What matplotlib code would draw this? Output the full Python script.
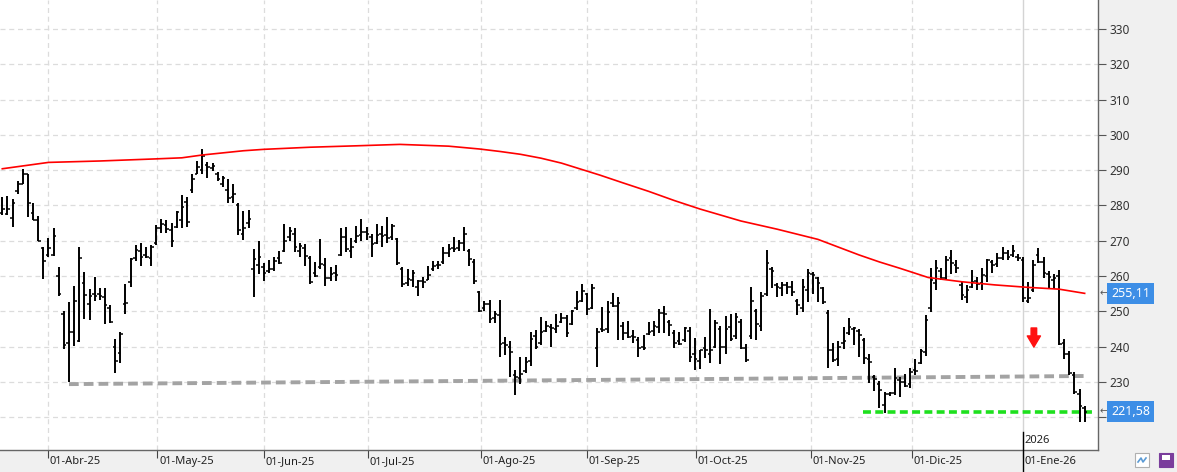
import matplotlib.pyplot as plt
import matplotlib.transforms as mtransforms
from matplotlib.patches import Rectangle
from matplotlib.lines import Line2D
import numpy as np

plt.rcParams['font.family'] = ['Noto Sans', 'DejaVu Sans']

# daily OHLC bars
highs = [
    282.3, 282.7, 281.8, 286.8, 290.3, 288.9, 280.7, 277.0, 268.3, 270.8,
    273.6, 262.6, 250.2, 252.7, 257.3, 268.1, 261.2, 256.3, 259.8, 256.6,
    256.5, 251.9, 242.2, 244.3, 257.7, 265.0, 268.9, 269.3, 268.3, 268.9,
    274.4, 276.1, 275.9, 274.9, 278.5,
    282.9, 282.5, 288.9, 292.6, 295.9, 292.2, 292.0, 289.5, 288.4, 287.5,
    286.2, 280.7, 278.3, 278.7, 267.6, 269.8, 263.6, 264.5, 265.5, 267.2,
    274.7, 274.0, 273.6, 269.3, 269.1, 265.8, 263.9, 270.5, 265.1, 262.5,
    263.2, 273.6, 274.0, 270.9, 274.2,
    276.1, 274.0, 271.9, 274.7, 274.2, 276.8, 274.7, 270.9, 262.6, 262.0,
    261.7, 258.9, 259.8, 262.9, 264.2, 264.3, 268.1, 269.1, 271.1, 270.2,
    274.0, 267.6, 264.8, 255.8, 253.0, 253.2, 250.2, 253.2, 242.8, 241.5,
    233.4, 237.2, 237.0, 244.3, 244.7,
    248.5, 247.4, 246.4, 249.4, 249.6, 249.0, 250.4, 255.8, 257.7, 255.3,
    257.9, 245.2, 251.3, 253.0, 255.3, 254.2, 247.1, 247.4, 244.7, 242.8,
    243.3, 247.1, 247.4, 250.6, 251.5, 247.5, 244.7, 244.2, 245.7, 245.5,
    242.4, 239.0, 242.8, 250.6, 247.5,
    246.0, 248.6, 249.3, 249.5, 247.9, 240.8, 257.0, 250.8, 255.5, 267.4,
    262.7, 258.1, 258.4, 258.4, 258.7, 253.6, 259.3, 261.9, 261.2, 259.6,
    257.0, 250.5, 241.0, 241.7, 245.7, 248.2, 245.7, 245.0, 242.5, 237.9,
    232.0, 230.3, 227.2, 227.2, 234.1,
    231.4, 232.3, 233.9, 236.6, 239.3, 248.9, 262.2, 264.6, 262.4, 265.8,
    267.4, 264.6, 258.4, 257.5, 261.7, 259.8, 262.2, 264.9, 264.6, 266.5,
    268.1, 267.4, 268.9, 266.2, 265.3, 258.4, 264.6, 267.9, 265.5, 261.5,
    260.5, 261.7, 242.1, 238.7, 232.8, 227.9, 223.3,
]
lows = [
    277.4, 277.4, 273.8, 283.2, 286.2, 276.8, 275.8, 270.0, 259.2, 265.5,
    265.8, 254.4, 239.4, 229.9, 240.1, 241.2, 247.8, 247.5, 253.0, 253.2,
    246.4, 246.7, 232.5, 235.3, 249.2, 257.0, 264.3, 262.9, 265.0, 262.8,
    268.9, 272.1, 272.1, 268.3, 273.6,
    273.6, 273.8, 283.4, 288.9, 288.9, 287.7, 289.8, 286.8, 285.1, 280.8,
    280.8, 271.6, 270.2, 273.5, 254.2, 260.6, 258.7, 261.0, 261.5, 263.4,
    266.7, 270.0, 266.7, 265.3, 262.9, 257.7, 259.8, 262.0, 257.1, 258.7,
    258.5, 265.8, 266.7, 265.1, 269.5,
    270.0, 270.2, 265.3, 269.1, 268.1, 269.5, 270.2, 263.2, 257.0, 257.3,
    257.0, 254.4, 256.6, 258.9, 261.5, 262.0, 263.4, 265.3, 266.7, 267.2,
    267.2, 262.9, 257.7, 249.9, 250.2, 246.6, 246.6, 237.0, 237.7, 231.5,
    226.4, 229.4, 232.5, 234.6, 239.4,
    240.5, 244.2, 240.0, 243.8, 246.8, 242.8, 246.1, 250.4, 252.7, 249.0,
    250.8, 234.3, 244.2, 243.8, 251.3, 241.9, 241.9, 242.4, 241.1, 237.2,
    239.2, 243.3, 243.0, 243.8, 244.0, 243.0, 239.5, 240.5, 241.4, 235.8,
    233.4, 233.6, 236.7, 235.3, 239.5,
    235.0, 237.9, 241.7, 242.2, 239.3, 235.8, 242.2, 241.9, 244.4, 254.3,
    256.5, 254.1, 254.3, 255.0, 254.3, 248.9, 249.8, 252.7, 255.0, 252.7,
    252.0, 234.1, 235.8, 234.6, 239.3, 243.4, 240.6, 237.1, 235.2, 229.8,
    227.4, 222.7, 221.2, 226.0, 226.3,
    225.7, 228.5, 228.3, 231.9, 235.2, 237.4, 249.9, 256.1, 258.9, 258.9,
    260.5, 260.8, 253.2, 252.3, 256.5, 256.1, 256.1, 258.4, 260.8, 262.7,
    264.6, 264.6, 265.3, 264.3, 252.7, 252.3, 255.6, 263.6, 259.4, 256.5,
    256.3, 240.4, 236.4, 231.9, 226.6, 218.8, 218.8,
]
opens = [
    277.8, 277.6, 276.4, 284.0, 286.2, 288.9, 278.0, 276.0, 268.0, 266.0,
    266.0, 260.1, 249.2, 241.0, 244.1, 241.7, 258.0, 252.0, 255.0, 254.8,
    254.0, 251.0, 240.0, 238.2, 252.0, 258.2, 265.0, 267.0, 266.0, 265.0,
    269.5, 273.5, 274.5, 273.0, 274.0,
    276.0, 281.0, 284.5, 289.0, 290.0, 291.5, 290.5, 289.0, 286.0, 284.3,
    282.5, 280.0, 272.0, 275.0, 262.0, 263.0, 262.5, 261.5, 262.0, 265.0,
    267.0, 271.0, 272.0, 267.0, 268.0, 265.0, 261.0, 262.5, 263.0, 259.5,
    261.0, 266.0, 271.0, 267.0, 270.0,
    271.5, 272.5, 271.0, 269.5, 272.0, 271.5, 271.0, 270.5, 262.0, 258.0,
    259.0, 257.0, 258.5, 259.0, 262.0, 263.0, 263.9, 266.5, 268.0, 268.0,
    269.5, 267.0, 264.0, 255.5, 251.0, 252.0, 248.0, 249.0, 241.0, 240.0,
    232.0, 231.0, 233.0, 236.0, 243.0,
    241.0, 244.5, 245.5, 245.0, 247.0, 248.0, 246.5, 251.0, 253.0, 255.0,
    251.0, 239.5, 245.0, 245.0, 252.5, 251.5, 246.0, 244.0, 243.0, 242.0,
    240.0, 243.5, 244.5, 245.5, 249.5, 247.0, 244.0, 241.5, 242.0, 244.5,
    238.0, 236.0, 239.5, 238.0, 240.0,
    245.0, 240.0, 245.5, 243.0, 247.0, 239.5, 243.0, 250.0, 246.0, 255.0,
    262.0, 257.5, 256.5, 257.5, 257.0, 253.0, 251.0, 256.0, 260.5, 259.5,
    256.5, 249.5, 239.0, 236.5, 241.0, 244.0, 245.0, 244.5, 242.0, 236.5,
    231.5, 229.5, 223.5, 226.5, 227.0,
    230.5, 230.0, 229.5, 233.5, 235.5, 238.5, 251.0, 258.0, 261.5, 259.5,
    265.0, 263.0, 257.5, 254.0, 257.0, 258.5, 258.0, 260.0, 264.0, 263.5,
    265.0, 266.5, 266.0, 265.5, 264.5, 253.0, 256.0, 266.0, 264.0, 260.5,
    259.0, 260.0, 241.0, 238.0, 232.0, 226.5, 222.5,
]
closes = [
    279.0, 279.0, 280.6, 286.0, 289.0, 280.7, 276.0, 270.0, 264.3, 268.0,
    271.4, 255.0, 240.6, 244.2, 253.0, 265.1, 254.7, 254.4, 254.4, 254.4,
    251.9, 246.9, 236.0, 243.6, 252.3, 264.8, 267.4, 265.5, 265.3, 268.1,
    273.6, 274.7, 273.3, 270.0, 278.2,
    279.6, 275.4, 287.5, 290.8, 294.0, 290.8, 291.2, 287.5, 287.9, 282.0,
    283.2, 273.0, 273.6, 276.1, 264.8, 265.3, 261.0, 262.0, 264.2, 263.6,
    270.0, 272.8, 268.3, 268.6, 265.8, 258.2, 260.1, 263.4, 259.4, 260.6,
    260.4, 271.0, 267.6, 268.1, 271.4,
    272.6, 271.9, 269.2, 271.7, 271.4, 270.9, 274.2, 263.7, 257.7, 259.2,
    260.8, 258.7, 258.2, 260.4, 262.9, 263.2, 266.5, 267.6, 267.6, 269.5,
    271.9, 264.8, 258.5, 250.2, 252.1, 247.8, 249.2, 240.8, 240.6, 238.4,
    231.3, 232.3, 235.6, 242.2, 239.8,
    244.2, 245.8, 245.2, 245.8, 248.0, 244.0, 250.2, 252.7, 255.8, 250.6,
    256.5, 244.2, 244.7, 249.9, 251.5, 252.3, 243.8, 242.8, 242.8, 239.5,
    239.5, 244.2, 245.8, 249.6, 249.4, 246.1, 241.1, 240.9, 245.2, 237.2,
    236.4, 239.0, 239.0, 239.0, 246.8,
    239.8, 245.0, 242.2, 248.4, 239.6, 236.2, 252.9, 246.5, 254.3, 263.6,
    261.5, 257.0, 257.4, 257.0, 255.5, 251.9, 257.0, 260.8, 260.3, 258.1,
    252.7, 239.0, 236.2, 240.0, 241.7, 245.7, 245.3, 243.4, 236.8, 235.8,
    230.8, 227.6, 226.7, 227.0, 231.0,
    230.0, 229.0, 232.8, 233.0, 238.7, 247.5, 259.0, 262.2, 259.4, 264.6,
    263.6, 262.2, 254.6, 256.1, 258.2, 257.9, 260.3, 264.6, 263.2, 265.1,
    266.5, 265.3, 267.0, 265.1, 253.9, 253.9, 263.2, 264.0, 260.8, 259.8,
    259.4, 240.9, 238.0, 232.6, 227.1, 223.1, 221.58,
]

# moving average (red), sampled along the bars
ma_x = [0, 9, 19, 30, 35, 39, 47, 51, 60, 69, 77.5, 87, 93, 97, 101, 105, 109,
        116.5, 121, 126, 131, 136, 144, 151, 159, 163, 167, 171, 175, 180.5,
        187, 193.5, 200, 206, 211]
ma_y = [290.4, 292.2, 292.6, 293.2, 293.5, 294.3, 295.5, 295.9, 296.5, 296.9,
        297.3, 296.8, 296.0, 295.3, 294.5, 293.4, 292.0, 288.6, 286.4, 284.0,
        281.4, 279.0, 275.6, 273.3, 270.4, 268.2, 266.0, 264.0, 262.2, 259.6,
        258.4, 257.5, 256.8, 256.3, 255.11]

# support lines
support_x = [13, 211]
support_y = [229.4, 231.7]
low_x = [167.8, 213]
low_y = [221.6, 221.6]

month_pos = [8.9, 30.2, 51.0, 71.2, 93.3, 113.9, 135.2, 157.6, 177.3, 198.9]
month_labels = ['01-Abr-25', '01-May-25', '01-Jun-25', '01-Jul-25', '01-Ago-25',
                '01-Sep-25', '01-Oct-25', '01-Nov-25', '01-Dic-25', '01-Ene-26']
y_ticks = [220, 230, 240, 250, 260, 270, 280, 290, 300, 310, 320, 330]
# 220 is hidden behind the last-price box in the original
y_tick_labels = ['', '230', '240', '250', '260', '270', '280', '290', '300',
                 '310', '320', '330']

ma_last = 255.11
last_price = 221.58

W, H = 1177, 472
fig = plt.figure(figsize=(W / 100, H / 100), dpi=100)
ax = fig.add_axes([0, 22 / H, 1098 / W, 450 / H])

# gray side/bottom panels
fig.add_artist(Rectangle((1098 / W, 0), 1, 1, transform=fig.transFigure,
                         fc='#f0f0f0', ec='none', zorder=-5))
fig.add_artist(Rectangle((0, 0), 1, 22 / H, transform=fig.transFigure,
                         fc='#f0f0f0', ec='none', zorder=-5))

x = np.arange(len(closes))

# grid
for v in y_ticks:
    ax.axhline(v, color='#dcdcdc', lw=0.9, ls=(0, (4, 3)), zorder=0)
for p in month_pos[:-1]:
    ax.axvline(p, color='#dcdcdc', lw=0.9, ls=(0, (4, 3)), zorder=0)
ax.axvline(month_pos[-1], color='#d4d4d4', lw=1.0, zorder=0)

# OHLC bars
ax.vlines(x, lows, highs, color='black', lw=1.4, zorder=3)
ax.hlines(opens, x - 0.5, x, color='black', lw=1.1, zorder=3)
ax.hlines(closes, x, x + 0.5, color='black', lw=1.1, zorder=3)

ax.plot(ma_x, ma_y, color='#ff0000', lw=1.2, zorder=4)
ax.plot(support_x, support_y, color='#a3a3a3', lw=2.8, ls=(0, (2.5, 1.3)), zorder=2)
ax.plot(low_x, low_y, color='#1ee01e', lw=2.6, ls=(0, (2.2, 1.2)), zorder=2)

# red down arrow
ax.annotate('', xy=(201.1, 239.9), xytext=(201.1, 245.3),
            arrowprops=dict(arrowstyle='simple,head_length=0.8,head_width=0.95,tail_width=0.4',
                            fc='#ff1010', ec='#ff1010', shrinkA=0, shrinkB=0), zorder=5)

ax.set_xlim(-0.45, 213.6)
ax.set_ylim(210.74, 338.2)

for s in ['top', 'left']:
    ax.spines[s].set_visible(False)
for s in ['right', 'bottom']:
    ax.spines[s].set_color('#666666')
    ax.spines[s].set_linewidth(1.0)

ax.yaxis.tick_right()
ax.set_yticks(y_ticks, y_tick_labels)
ax.tick_params(axis='y', direction='out', length=6, width=0.8, colors='#555555',
               labelcolor='#333333', labelsize=8.5, pad=2)
ax.set_xticks(month_pos)
ax.set_xticklabels([])
ax.tick_params(axis='x', direction='out', length=6, width=0.8, colors='#444444')

bt = mtransforms.blended_transform_factory(ax.transData, ax.transAxes)
for p, lab in zip(month_pos, month_labels):
    ax.text(p + 0.35, -0.026, lab, transform=bt, ha='left', va='center',
            fontsize=8, color='#222222', clip_on=False)
ax.text(month_pos[-1] + 0.3, 0.022, '2026', transform=bt, ha='left', va='center',
        fontsize=8, color='#222222')
ax.plot([month_pos[-1], month_pos[-1]], [0.04, -0.05], transform=bt, color='black',
        lw=1.0, clip_on=False, zorder=6)

# value boxes on the price axis
tb = mtransforms.blended_transform_factory(fig.transFigure, ax.transData)
for val in [ma_last, last_price]:
    fig.text(1100 / W, val, '\u2190', transform=tb, fontsize=7, color='#555555',
             va='center', ha='left', family='DejaVu Sans')
    fig.text(1111 / W, val, f'{val:.2f}'.replace('.', ','), transform=tb,
             fontsize=9, color='white', va='center', ha='left', zorder=10,
             bbox=dict(boxstyle='square,pad=0.3', fc='#3d8ee6', ec='none'))

# small toolbar icons bottom right
fig.add_artist(Rectangle((1135 / W, 5 / H), 14 / W, 14 / H, transform=fig.transFigure,
                         fc='white', ec='#b0b0b0', lw=0.8))
fig.add_artist(Line2D([1138 / W, 1141 / W, 1143 / W, 1146 / W],
                      [10 / H, 14 / H, 10 / H, 14 / H], transform=fig.transFigure,
                      color='#5b9bd5', lw=1.2))
fig.add_artist(Rectangle((1159 / W, 5 / H), 14 / W, 14 / H, transform=fig.transFigure,
                         fc='#7a3d9c', ec='#7a3d9c', lw=0.8))
fig.add_artist(Rectangle((1162 / W, 12 / H), 8 / W, 5 / H, transform=fig.transFigure,
                         fc='white', ec='none'))

fig.savefig('out.png', dpi=100)
